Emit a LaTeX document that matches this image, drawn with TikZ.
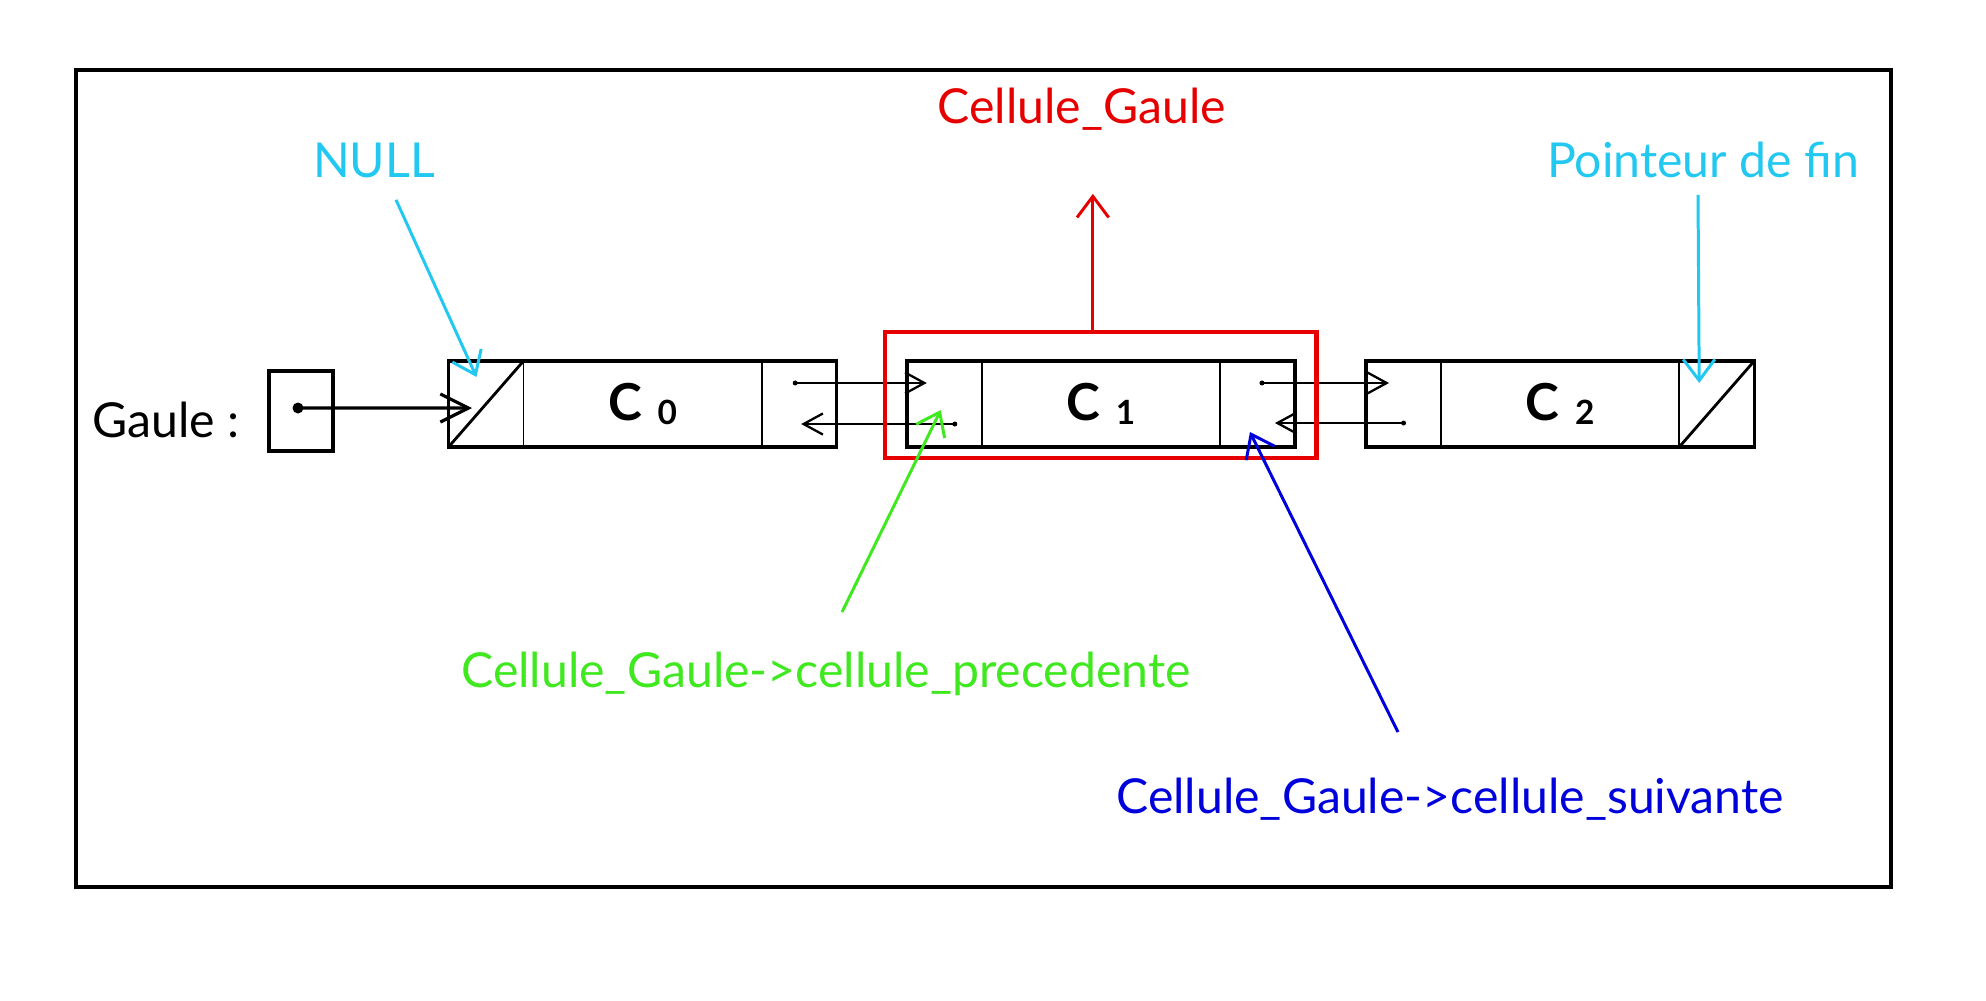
\documentclass[tikz,border=0pt]{standalone}
\usepackage{fontspec}
\setmainfont{Lato}
\usetikzlibrary{arrows.meta, positioning, fit}
\definecolor{nullcyan}{HTML}{22C8F0}
\definecolor{cellred}{HTML}{E60000}
\definecolor{precgreen}{HTML}{40E820}
\definecolor{suivblue}{HTML}{0000DD}
\newcommand{\celltag}[1]{{\bfseries\fontsize{14.5pt}{14pt}\selectfont C}\hspace{4.5pt}\raisebox{-1.2pt}{\bfseries\fontsize{9.5pt}{9pt}\selectfont #1}}
\tikzset{
  frame/.style={draw,line width=1.15pt},
  part/.style={rectangle,draw,line width=0.55pt,minimum height=0.86cm,inner sep=0pt,outer sep=0pt},
  ptrpart/.style={part,minimum width=0.75cm},
  valpart/.style={part,minimum width=2.38cm},
  cellframe/.style={rectangle,draw,line width=1pt,inner sep=0pt},
  headbox/.style={rectangle,draw,line width=1.15pt,minimum width=0.64cm,minimum height=0.80cm,inner sep=0pt},
  selbox/.style={rectangle,draw=cellred,line width=1.3pt},
  txt/.style={font=\fontsize{13.7pt}{16pt}\selectfont},
  slash/.style={line width=0.8pt},
  ptrline/.style={line width=0.65pt,-{Straight Barb[length=5.5pt,width=6pt]}},
  headline/.style={line width=0.9pt,-{Straight Barb[length=8pt,width=8pt]}},
  note/.style={line width=0.85pt,-{Straight Barb[length=6pt,width=9pt]}}
}

\begin{document}
\begin{tikzpicture}[x=0.01cm, y=-0.01cm, node distance=0pt]
\useasboundingbox (0,0) rectangle (1986,1000);
\draw[frame] (76,70) rectangle (1891,887);

% tete de liste
\node[headbox] (gaule) at (301,411) {};
\node[txt, anchor=base east] (gaulelbl) at (252,437) {Gaule :};

% cellules
\node[ptrpart] (c0prev) at (486,404) {};
\node[valpart, right=of c0prev] (c0val) {\celltag{0}};
\node[ptrpart, right=of c0val] (c0next) {};
\node[ptrpart, right=0.70cm of c0next] (c1prev) {};
\node[valpart, right=of c1prev] (c1val) {\celltag{1}};
\node[ptrpart, right=of c1val] (c1next) {};
\node[ptrpart, right=0.71cm of c1next] (c2prev) {};
\node[valpart, right=of c2prev] (c2val) {\celltag{2}};
\node[ptrpart, right=of c2val] (c2next) {};
\node[cellframe, fit=(c0prev)(c0next)] (c0) {};
\node[cellframe, fit=(c1prev)(c1next)] (c1) {};
\node[cellframe, fit=(c2prev)(c2next)] (c2) {};
\draw[slash] (c0prev.south west) -- (c0prev.north east);
\draw[slash] (c2next.south west) -- (c2next.north east);

% pointeurs
\coordinate (gdot) at ([xshift=-0.03cm,yshift=0.03cm]gaule.center);
\coordinate (gtip) at ([xshift=-0.14cm,yshift=-0.04cm]c0prev.center);
\coordinate (c0out) at ([xshift=-0.04cm,yshift=0.21cm]c0next.center);
\coordinate (c1in) at ([xshift=-0.175cm,yshift=0.21cm]c1prev.center);
\coordinate (c1back) at ([xshift=0.105cm,yshift=-0.20cm]c1prev.center);
\coordinate (c0in) at ([xshift=0.02cm,yshift=-0.20cm]c0next.center);
\coordinate (c1out) at ([xshift=0.045cm,yshift=0.21cm]c1next.center);
\coordinate (c2in) at ([xshift=-0.145cm,yshift=0.21cm]c2prev.center);
\coordinate (c2back) at ([yshift=-0.19cm]c2prev.center);
\coordinate (c1ret) at ([xshift=0.175cm,yshift=-0.19cm]c1next.center);
\fill (gdot) circle[radius=0.055cm];
\foreach \p in {c0out,c1back,c1out,c2back}
  \fill (\p) circle[radius=0.025cm];
\draw[headline] (gdot) -- (gtip);
\draw[ptrline] (c0out) -- (c1in);
\draw[ptrline] (c1back) -- (c0in);
\draw[ptrline] (c1out) -- (c2in);
\draw[ptrline] (c2back) -- (c1ret);

% cellule courante
\node[selbox, fit=(c1), inner xsep=0.2cm, inner ysep=0.18cm, yshift=0.09cm] (sel) {};
\node[txt, text=cellred, anchor=base] (selname) at (1082,123) {Cellule\_Gaule};
\coordinate (seltip) at ([xshift=-0.08cm,yshift=1.36cm]sel.north);
\draw[note, cellred] ([xshift=-0.08cm]sel.north) -- (seltip);

% annotations
\node[txt, text=nullcyan, anchor=base] (null) at (374,177) {NULL};
\coordinate (nulltip) at ([xshift=0.28cm,yshift=-0.16cm]c0prev.north west);
\draw[note, nullcyan] ([xshift=0.22cm,yshift=-0.1cm]null.south) -- (nulltip);

\node[txt, text=nullcyan, anchor=base] (fin) at (1703,177) {Pointeur de fin};
\coordinate (fintip) at ([xshift=-0.175cm,yshift=-0.22cm]c2next.north);
\draw[note, nullcyan] ([xshift=-0.05cm,yshift=-0.05cm]fin.south) -- (fintip);

\node[txt, text=precgreen, anchor=base] (prec) at (826,687) {Cellule\_Gaule->cellule\_precedente};
\coordinate (prectip) at ([xshift=-0.035cm,yshift=-0.06cm]c1prev.center);
\draw[note, precgreen] ([xshift=0.16cm,yshift=0.27cm]prec.north) -- (prectip);

\node[txt, text=suivblue, anchor=base] (suiv) at (1450,813) {Cellule\_Gaule->cellule\_suivante};
\coordinate (suivtip) at ([xshift=-0.075cm,yshift=-0.28cm]c1next.center);
\draw[note, suivblue] ([xshift=-0.52cm,yshift=0.33cm]suiv.north) -- (suivtip);
\end{tikzpicture}
\end{document}
